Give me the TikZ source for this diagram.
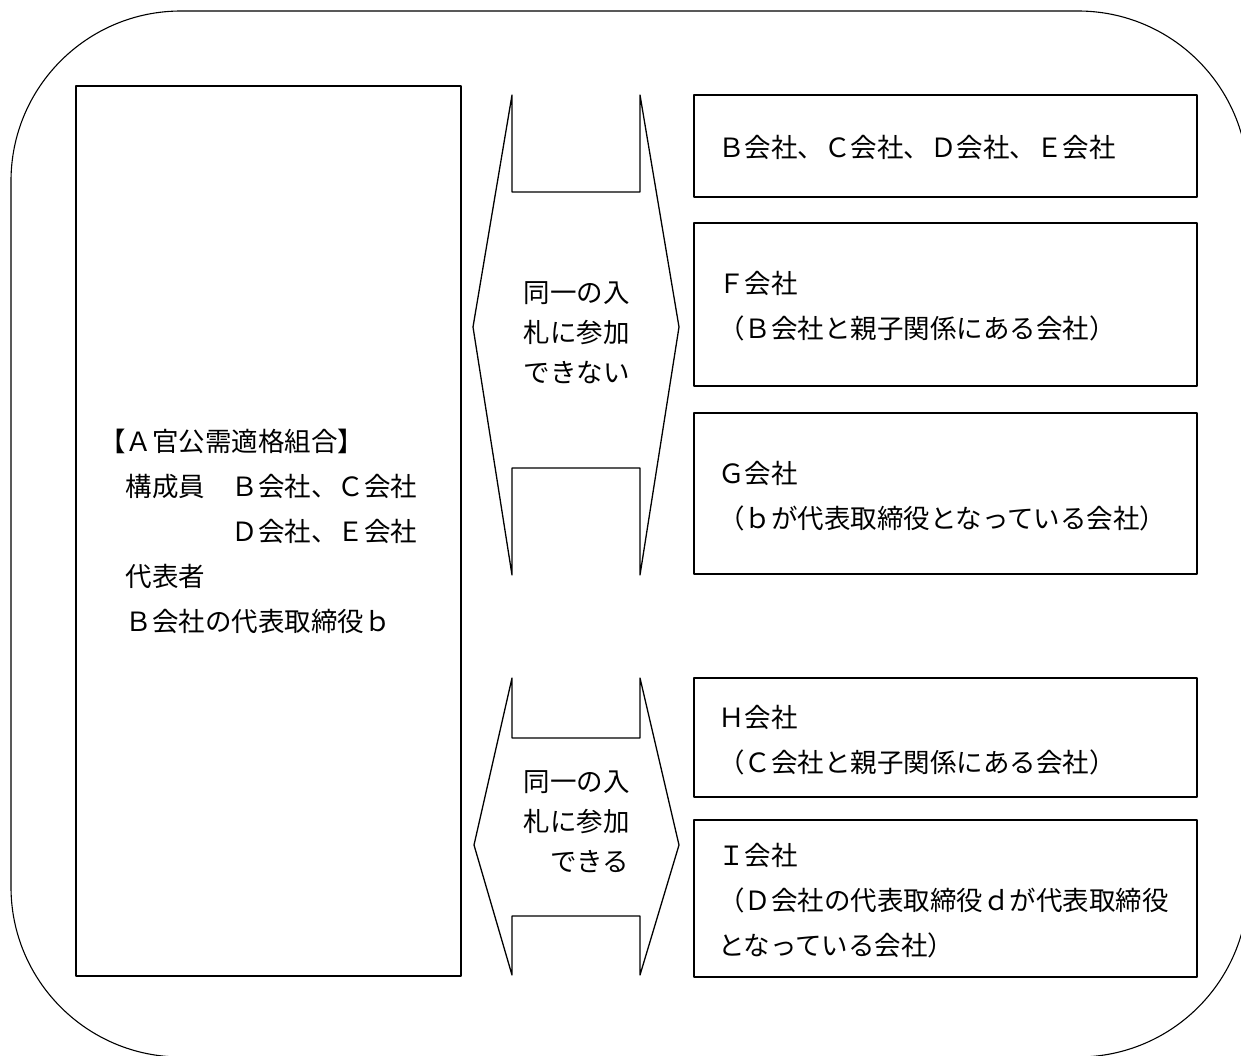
\documentclass[tikz,border=0pt]{standalone}
\usepackage{fontspec}
\newfontfamily\jp{Noto Sans CJK JP}
\tikzset{
  frame/.style={draw=black, line width=1.3pt, line join=round},
  box/.style={frame, rectangle, inner sep=0pt, outer sep=0pt},
  txt/.style={anchor=base west, inner sep=0pt, outer sep=0pt, text=black,
              font=\jp\fontsize{26.5pt}{45pt}\selectfont},
}
\begin{document}
\begin{tikzpicture}[x=1pt,y=-1pt]
\useasboundingbox (0,0) rectangle (1241,1055);
\clip (0,0) rectangle (1241,1055);
% outer rounded frame (cut by the page on the right and bottom)
\draw[frame, line width=1.1pt, rounded corners=170pt] (11,11) rectangle (1248,1057);

% left box
\node[box, minimum width=385pt, minimum height=890pt] (A) at (268.5,531) {};
% right boxes
\node[box, minimum width=503pt, minimum height=102pt] (B1) at (945.5,146) {};
\node[box, minimum width=503pt, minimum height=163pt] (B2) at (945.5,304.5) {};
\node[box, minimum width=503pt, minimum height=161pt] (B3) at (945.5,493.5) {};
\node[box, minimum width=503pt, minimum height=119pt] (B4) at (945.5,737.5) {};
\node[box, minimum width=503pt, minimum height=157pt] (B5) at (945.5,898.5) {};

% double arrow shapes
\draw[frame] (512,95) -- (512,192) -- (640,192) -- (640,95) -- (679,327) -- (640,575)
  -- (640,468) -- (512,468) -- (512,575) -- (473,327) -- cycle;
\draw[frame] (512,678) -- (512,738) -- (640,738) -- (640,678) -- (679,845) -- (640,975)
  -- (640,916) -- (512,916) -- (512,975) -- (474,845) -- cycle;

% left box text
\node[txt] (a1) at (99,451) {【Ａ官公需適格組合】};
\node[txt] (a2) at (99,496) {　構成員　Ｂ会社、Ｃ会社};
\node[txt] (a3) at (99,541) {　　　　　Ｄ会社、Ｅ会社};
\node[txt] (a4) at (99,586) {　代表者};
\node[txt] (a5) at (99,631) {　Ｂ会社の代表取締役ｂ};

% arrow texts
\node[txt] (n1) at (523.5,302) {同一の入};
\node[txt] (n2) at (523.5,342) {札に参加};
\node[txt] (n3) at (523.5,382) {できない};
\node[txt] (m1) at (523.5,791) {同一の入};
\node[txt] (m2) at (523.5,831) {札に参加};
\node[txt] (m3) at (523.5,871) {　できる};

% right box texts
\node[txt] (t1) at (718,157) {Ｂ会社、Ｃ会社、Ｄ会社、Ｅ会社};
\node[txt] (t2a) at (718,293) {Ｆ会社};
\node[txt] (t2b) at (718,338) {（Ｂ会社と親子関係にある会社）};
\node[txt] (t3a) at (718,483) {Ｇ会社};
\node[txt] (t3b) at (718,528) {（ｂが代表取締役となっている会社）};
\node[txt] (t4a) at (718,727) {Ｈ会社};
\node[txt] (t4b) at (718,772) {（Ｃ会社と親子関係にある会社）};
\node[txt] (t5a) at (718,865) {Ｉ会社};
\node[txt] (t5b) at (718,910) {（Ｄ会社の代表取締役ｄが代表取締役};
\node[txt] (t5c) at (718,955) {となっている会社）};
\end{tikzpicture}
\end{document}
